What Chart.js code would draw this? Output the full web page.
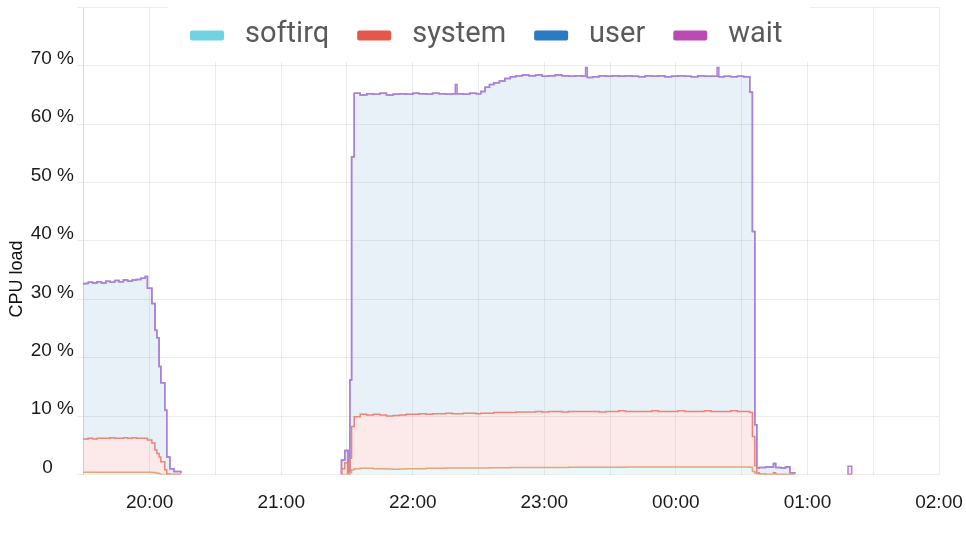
<!DOCTYPE html>
<html>
<head>
<meta charset="utf-8">
<script src="https://cdn.jsdelivr.net/npm/chart.js@4/dist/chart.umd.min.js"></script>
<style>
html,body{margin:0;padding:0;background:#fff;overflow:hidden}
#wrap{width:966px;height:535px;position:relative}
canvas{display:block}
</style>
</head>
<body>
<div id="wrap"><canvas id="c" width="966" height="535"></canvas></div>
<script>
// ---- data (minutes after 19:00; values in % CPU) ----
const seriesNames = ['softirq', 'system', 'user', 'wait'];
const legendColors = ['#72d2e2', '#e4574b', '#2a7bc3', '#bb4bb3'];
const yAxisTitle = 'CPU load';
const yTickValues = [0, 10, 20, 30, 40, 50, 60, 70, 80];
const xTickMinutes = [30, 60, 90, 120, 150, 180, 210, 240, 270, 300, 330, 360, 390, 420];

const times = [
  28, 30, 32, 34, 36, 38, 40, 42, 44, 46, 48, 50, 52, 54, 56, 58, 59, 61, 62.4, 63.3, 64.3, 65.1, 66.9, 67.8, 69.2, 71, 74.2, 75,
  147.4, 147.5, 149, 150.5, 151.3, 152.1, 153.3,
  156, 159, 162, 165, 168, 171, 174, 177, 180, 183, 186, 189, 192, 195, 198, 199.4, 200.2,
  203, 206, 209, 211, 213, 215, 217, 219.5, 222, 224.5, 227, 230, 233, 236, 239, 242, 245, 248,
  251, 254, 257, 258.8, 259.6, 262, 265, 268, 271, 274, 277, 280, 283, 286, 289, 292, 295, 298,
  301, 304, 307, 310, 313, 316, 318.8, 319.6, 322, 325, 328, 331,
  333.7, 334.9, 336, 336.9, 338, 341, 344.5, 345.5, 348, 350, 352, 354.2, 354.5,
  378.4, 378.5, 380.2, 380.3
];
const softirq = [
  0.4, 0.4, 0.4, 0.4, 0.4, 0.4, 0.4, 0.4, 0.4, 0.4, 0.4, 0.4, 0.4, 0.4, 0.4, 0.4, 0.4, 0.35, 0.25, 0.2, 0.1, 0, 0, 0, 0, 0, 0, null,
  0, 0, 0, 0, 0.3, 0.8, 1.0,
  1.05, 1.05, 1.0, 1.0, 0.95, 0.9, 0.95, 1.0, 1.0, 1.0, 1.05, 1.05, 1.05, 1.1, 1.1, 1.1, 1.1,
  1.1, 1.1, 1.1, 1.1, 1.1, 1.15, 1.15, 1.15, 1.15, 1.2, 1.2, 1.2, 1.2, 1.2, 1.2, 1.2, 1.2, 1.2,
  1.25, 1.25, 1.25, 1.25, 1.25, 1.25, 1.25, 1.25, 1.25, 1.25, 1.3, 1.3, 1.3, 1.3, 1.3, 1.3, 1.3, 1.3,
  1.3, 1.3, 1.3, 1.3, 1.3, 1.3, 1.3, 1.3, 1.3, 1.3, 1.3, 1.3,
  1.25, 0.5, 0.2, 0, 0, 0, 0, 0, 0, 0, 0, 0, null,
  0, 0, 0, null
];
const system = [
  5.7, 5.7, 5.8, 5.7, 5.8, 5.8, 5.8, 5.9, 5.8, 5.8, 5.9, 5.8, 5.9, 5.8, 5.8, 5.8, 5.5, 5.05, 3.95, 3.4, 2.9, 2.2, 0.8, 0.1, 0, 0, 0, null,
  0, 1.0, 2.0, 0.1, 2.5, 7.4, 8.9,
  9.25, 9.15, 9.3, 9.2, 9.05, 9.2, 9.25, 9.3, 9.3, 9.4, 9.25, 9.35, 9.35, 9.4, 9.3, 9.3, 9.3,
  9.4, 9.4, 9.3, 9.4, 9.4, 9.35, 9.45, 9.45, 9.45, 9.4, 9.5, 9.5, 9.5, 9.6, 9.5, 9.6, 9.6, 9.5,
  9.55, 9.55, 9.55, 9.55, 9.55, 9.55, 9.45, 9.55, 9.55, 9.65, 9.5, 9.5, 9.5, 9.5, 9.6, 9.5, 9.5, 9.5,
  9.6, 9.5, 9.5, 9.5, 9.6, 9.5, 9.5, 9.5, 9.5, 9.6, 9.5, 9.5,
  9.35, 6.0, 1.3, 0.3, 0.1, 0, 0.3, 0, 0, 0, 0, 0, null,
  0, 0, 0, null
];
const user = [
  26.5, 26.6, 26.7, 26.7, 26.8, 26.6, 26.9, 26.6, 27.0, 26.8, 27.0, 26.9, 27.0, 27.2, 27.4, 27.7, 26.0, 23.9, 20.5, 19.8, 15.5, 13.5, 10.2, 2.9, 1.0, 0.5, 0.2, null,
  0, 1.5, 2.1, 0.1, 13.4, 46.2, 55.4,
  54.7, 55.0, 54.8, 55.1, 55.0, 55.0, 55.0, 54.8, 55.0, 54.8, 54.8, 54.9, 54.8, 54.6, 54.8, 54.8, 54.8,
  54.6, 54.8, 54.8, 55.1, 55.8, 56.3, 56.5, 56.8, 57.2, 57.5, 57.6, 57.7, 57.6, 57.6, 57.5, 57.5, 57.6, 57.6,
  57.4, 57.5, 57.4, 57.4, 57.2, 57.3, 57.6, 57.4, 57.5, 57.3, 57.5, 57.4, 57.3, 57.5, 57.3, 57.5, 57.3, 57.4,
  57.4, 57.4, 57.3, 57.5, 57.3, 57.4, 57.4, 57.3, 57.4, 57.2, 57.4, 57.3,
  54.9, 35.1, 7.0, 0.8, 1.1, 1.3, 1.6, 1.2, 1.1, 1.3, 0.3, 0.1, null,
  0, 0, 0, null
];
const wait = [
  0, 0, 0, 0, 0, 0, 0, 0, 0, 0, 0, 0, 0, 0, 0, 0, 0, 0, 0, 0, 0, 0, 0, 0, 0, 0, 0, null,
  0, 0, 0, 0, 0, 0, 0,
  0, 0, 0, 0, 0, 0, 0, 0, 0, 0, 0, 0, 0, 0, 0, 1.6, 0,
  0, 0, 0, 0, 0, 0, 0, 0, 0, 0, 0, 0, 0, 0, 0, 0, 0, 0,
  0, 0, 0, 1.5, 0, 0, 0, 0, 0, 0, 0, 0, 0, 0, 0, 0, 0, 0,
  0, 0, 0, 0, 0, 0, 1.5, 0, 0, 0, 0, 0,
  0, 0, 0, 0, 0, 0, 0, 0, 0, 0, 0, 0, null,
  0, 1.4, 0, null
];

// ---- styles ----
const lineColors = ['#e2a67a', '#eb8578', '#a982d8', '#a982d8'];
const fillColors = ['rgba(111,208,224,0.15)', 'rgba(226,86,70,0.12)', 'rgba(43,123,194,0.11)', 'rgba(187,75,179,0.12)'];
const fillModes = ['origin', '-1', '-1', '-1'];
const seriesValues = [softirq, system, user, wait];

function pad2(n) { return (n < 10 ? '0' : '') + n; }
function fmtMinutes(v) {
  const h = (19 + Math.floor(v / 60)) % 24;
  return pad2(h) + ':00';
}

const overlayLegend = {
  id: 'overlayLegend',
  beforeDatasetsDraw(chart) {
    const ctx = chart.ctx;
    ctx.save();
    ctx.fillStyle = '#ffffff';
    ctx.fillRect(168, 0, 642, 62);
    ctx.font = '29px Roboto';
    const boxW = 34, boxH = 10, gapText = 21, gapItem = 28;
    let x = 190;
    seriesNames.forEach((n, i) => {
      ctx.fillStyle = legendColors[i];
      ctx.beginPath();
      if (ctx.roundRect) ctx.roundRect(x, 30.5, boxW, boxH, 2); else ctx.rect(x, 30.5, boxW, boxH);
      ctx.fill();
      x += boxW + gapText;
      ctx.fillStyle = '#5a5a5a';
      ctx.textBaseline = 'alphabetic';
      ctx.textAlign = 'left';
      ctx.fillText(n, x, 42);
      x += ctx.measureText(n).width + gapItem;
    });
    ctx.restore();
  },
  afterDraw(chart) {
    const ctx = chart.ctx;
    ctx.save();
    ctx.font = '18px "Liberation Sans", Arial, sans-serif';
    ctx.fillStyle = '#111';
    ctx.textAlign = 'center';
    ctx.textBaseline = 'middle';
    ctx.translate(17, 279);
    ctx.rotate(-Math.PI / 2);
    ctx.fillText(yAxisTitle, 0, 0);
    ctx.restore();
  }
};

const datasets = seriesNames.map((name, i) => ({
  label: name,
  data: times.map((t, k) => ({ x: t, y: seriesValues[i][k] })),
  borderColor: lineColors[i],
  backgroundColor: fillColors[i],
  fill: fillModes[i],
  borderWidth: 1.5,
  pointRadius: 0,
  pointHoverRadius: 0,
  stepped: true,
  spanGaps: false,
  tension: 0
}));

new Chart(document.getElementById('c'), {
  type: 'line',
  data: { datasets },
  plugins: [overlayLegend],
  options: {
    responsive: false,
    devicePixelRatio: 1,
    animation: false,
    layout: { padding: { top: 7.3, right: 27, left: 0, bottom: 0 } },
    plugins: {
      legend: { display: false },
      tooltip: { enabled: false },
      filler: { propagate: false }
    },
    scales: {
      x: {
        type: 'linear',
        min: 29.6,
        max: 420,
        afterBuildTicks(scale) { scale.ticks = xTickMinutes.map(v => ({ value: v })); },
        afterFit(scale) { scale.height = 60.5; },
        grid: { color: 'rgba(0,0,0,0.075)', drawTicks: true, tickLength: 17, tickColor: 'rgba(0,0,0,0)' },
        border: { display: false },
        ticks: {
          autoSkip: false,
          maxRotation: 0,
          padding: 0,
          color: '#1a1a1a',
          font: { family: '"Liberation Sans", Arial, sans-serif', size: 19 },
          callback(v) { return (v % 60 === 0) ? fmtMinutes(v) : ''; }
        }
      },
      y: {
        stacked: true,
        min: 0,
        max: 80,
        afterBuildTicks(scale) { scale.ticks = yTickValues.map(v => ({ value: v })); },
        afterFit(scale) { scale.width = 83; },
        grid: { color: 'rgba(0,0,0,0.075)', tickLength: 6 },
        border: { color: 'rgba(0,0,0,0.08)' },
        ticks: {
          padding: 3,
          labelOffset: -7,
          color: '#1a1a1a',
          font: { family: '"Liberation Sans", Arial, sans-serif', size: 19, lineHeight: 0.4 },
          callback(v) { return v === 80 ? '' : (v === 0 ? '0    ' : v + ' %'); }
        }
      }
    }
  }
});
</script>
</body>
</html>
